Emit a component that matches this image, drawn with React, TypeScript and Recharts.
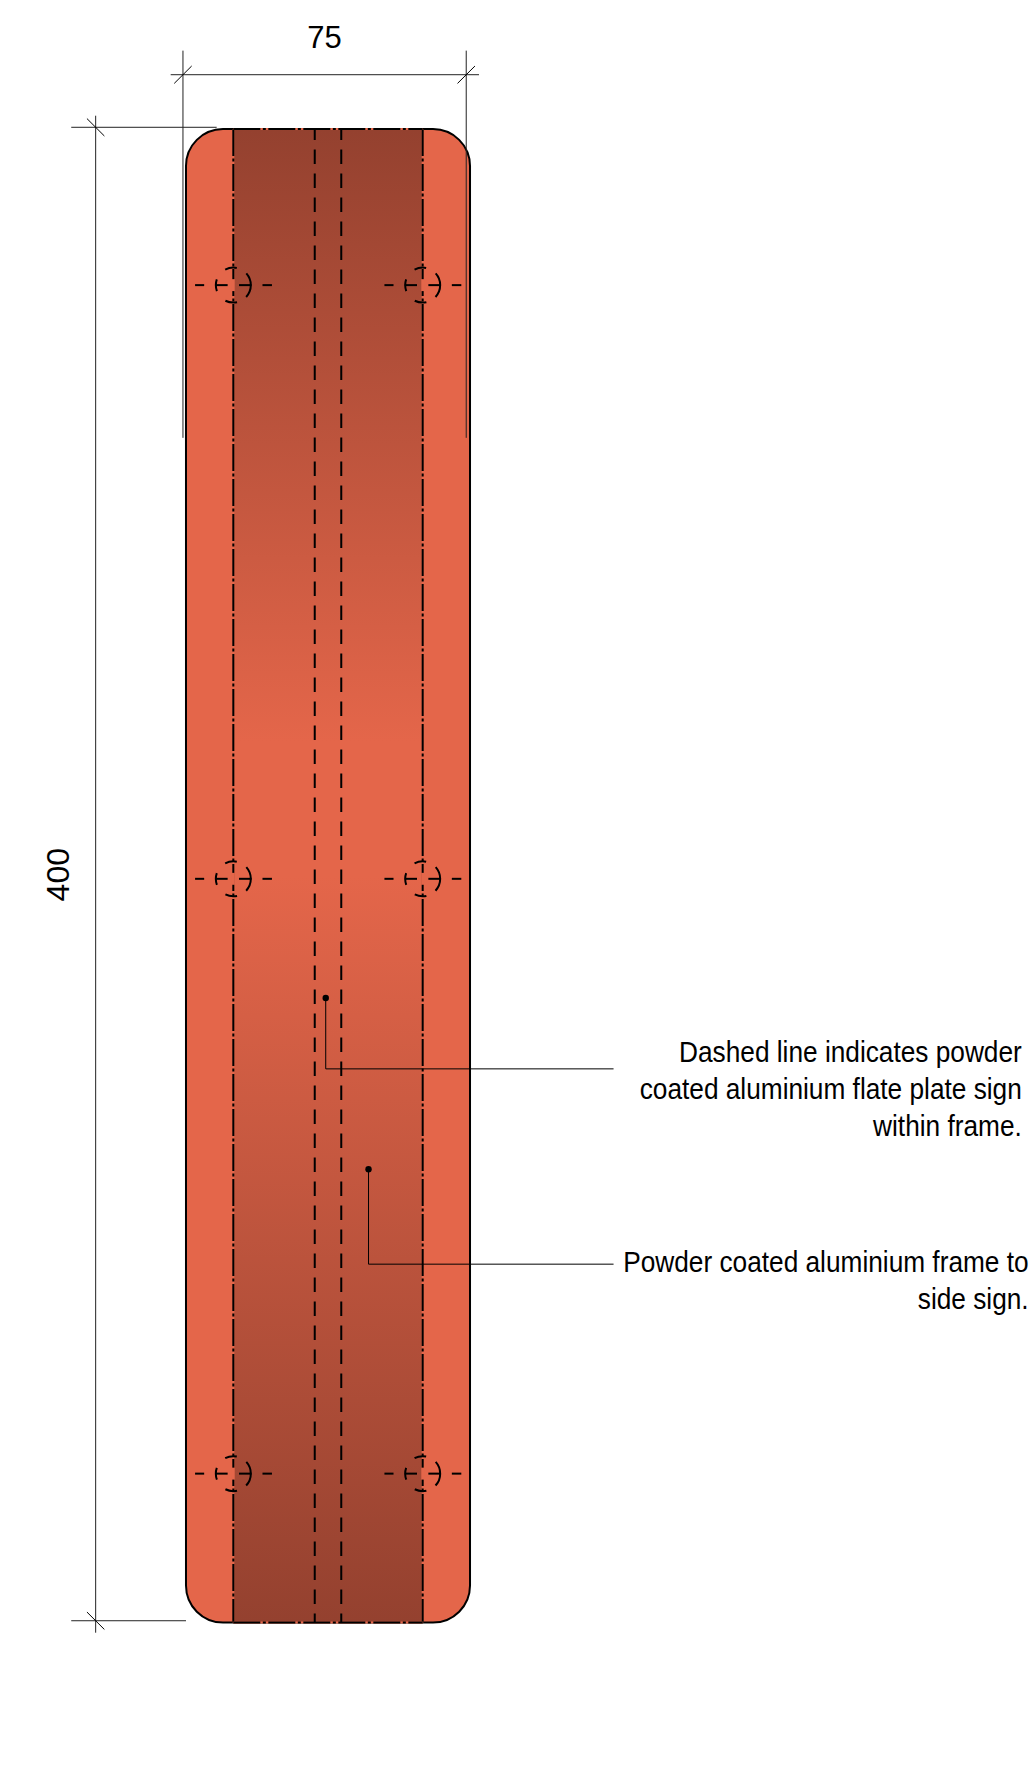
import React from "react";
import { ComposedChart, XAxis, YAxis, Line, ReferenceArea, ReferenceLine, ReferenceDot } from "recharts";

// All drawing values are in millimetres, measured from the top-left of the frame.
const frameSize = { w: 75, top: 0.2, bottom: 400.2 };
const bandEdges = [12.5, 62.5];
const plateEdges = [34, 41];
const holeXs = [12.5, 62.5];
const holeYs = [42, 201, 360.3];
const crossDashes = [[-10.1, -7.7], [-4.7, -1.5], [1.5, 4.8], [7.7, 10.2]];
const holeGapHalf = 1.6;
const widthDim = { y: -14.35, x1: -4.04, x2: 77.37, extX: [-0.8, 74], extY: [-20.8, 82.9] };
const heightDim = { x: -23.85, y1: -3.37, y2: 402.9, extY: [-0.27, 399.7], extX1: -30.3, extX2: [8.1, 0] };
const tickReach = { dx: 2.3, dy: 2.33 };
const leaderA = [{ x: 36.9, y: 232.9 }, { x: 36.9, y: 251.9 }, { x: 112.9, y: 251.9 }];
const leaderB = [{ x: 48.2, y: 278.8 }, { x: 48.2, y: 304.2 }, { x: 112.9, y: 304.2 }];
const notes = [
  { x: 220.7, y: 250, text: "Dashed line indicates powder" },
  { x: 220.7, y: 260, text: "coated aluminium flate plate sign" },
  { x: 220.7, y: 269.8, text: "within frame." },
  { x: 222.5, y: 306.2, text: "Powder coated aluminium frame to" },
  { x: 222.5, y: 316.3, text: "side sign." },
];
const dimLabels = { width: "75", height: "400" };
const widthLabelAt = { x: 36.6, y: -21.4 };
const heightLabelAt = { x: -30.8, y: 199.9 };
const xDomain = [-49.11, 223.13];
const yDomain = [-34.36, 442.35];

const FRAME = "#E4664A";
const DARK = "#94412F";
const FONT = "'Liberation Sans', Arial, sans-serif";
const INK = "#000";
const THIN = "#222";
const NOTE_SQUEEZE = 0.875;

const seg = (x1: number, y1: number, x2: number, y2: number, key: string, props: any = {}) => (
  <ReferenceLine
    key={key}
    ifOverflow="visible"
    segment={[{ x: x1, y: y1 }, { x: x2, y: y2 }]}
    stroke={THIN}
    strokeWidth={1}
    {...props}
  />
);

const NoteText = (p: any) => (
  <text
    transform={`translate(${p.cx} ${p.cy}) scale(${NOTE_SQUEEZE} 1)`}
    textAnchor="end"
    fontFamily={FONT}
    fontSize={30}
    fill="#000"
  >
    {p.text}
  </text>
);

const LeaderDot = (p: any) => <circle cx={p.cx} cy={p.cy} r={3.2} fill={INK} />;

export default function App() {
  const dashDot = { stroke: INK, strokeWidth: 2, strokeDasharray: "27 2.5 3 2.5" };
  return (
    <div style={{ position: "absolute", left: 0, top: 0, width: 1031, height: 1780, background: "#fff" }}>
      <ComposedChart width={1031} height={1780} margin={{ top: 0, right: 0, bottom: 0, left: 0 }}>
        <defs>
          <linearGradient id="bandFill" x1="0" y1="0" x2="0" y2="1">
            <stop offset="0" stopColor={DARK} />
            <stop offset="0.41" stopColor={FRAME} />
            <stop offset="0.5" stopColor={FRAME} />
            <stop offset="1" stopColor={DARK} />
          </linearGradient>
        </defs>
        <XAxis type="number" dataKey="x" domain={xDomain} hide allowDataOverflow />
        <YAxis type="number" dataKey="y" domain={yDomain} reversed hide allowDataOverflow />

        <ReferenceArea
          x1={0}
          x2={frameSize.w}
          y1={frameSize.top}
          y2={frameSize.bottom}
          ifOverflow="visible"
          fill={FRAME}
          fillOpacity={1}
          stroke={INK}
          strokeWidth={2}
          radius={37}
        />
        <ReferenceArea
          x1={bandEdges[0]}
          x2={bandEdges[1]}
          y1={frameSize.top}
          y2={frameSize.bottom}
          ifOverflow="visible"
          fill="url(#bandFill)"
          fillOpacity={1}
          stroke="none"
        />

        {bandEdges.map((x, i) => seg(x, frameSize.top, x, frameSize.bottom, `edgeU${i}`, { stroke: FRAME, strokeWidth: 2 }))}
        {bandEdges.map((x, i) => seg(x, frameSize.top, x, frameSize.bottom, `edge${i}`, dashDot))}
        {[frameSize.top, frameSize.bottom].map((y, i) => seg(bandEdges[0], y, bandEdges[1], y, `capU${i}`, { stroke: FRAME, strokeWidth: 2 }))}
        {[frameSize.top, frameSize.bottom].map((y, i) => seg(bandEdges[0], y, bandEdges[1], y, `cap${i}`, dashDot))}
        {plateEdges.map((x, i) =>
          seg(x, frameSize.top, x, frameSize.bottom, `plate${i}`, { stroke: INK, strokeWidth: 2, strokeDasharray: "14.5 9.5", strokeDashoffset: 3.5 })
        )}

        {holeXs.flatMap((hx) =>
          holeYs.flatMap((hy) => [
            seg(hx, hy - holeGapHalf, hx, hy + holeGapHalf, `gap${hx}-${hy}`, { stroke: FRAME, strokeWidth: 3 }),
            ...crossDashes.map(([a, b], i) =>
              seg(hx + a, hy, hx + b, hy, `cross${hx}-${hy}-${i}`, { stroke: INK, strokeWidth: 2 })
            ),
            <ReferenceDot
              key={`hole${hx}-${hy}`}
              x={hx}
              y={hy}
              r={17.5}
              ifOverflow="visible"
              fill="none"
              stroke={INK}
              strokeWidth={2}
              strokeDasharray="13 10.5 12 13 12 13 12 11 13 0"
            />,
          ])
        )}

        {seg(widthDim.x1, widthDim.y, widthDim.x2, widthDim.y, "wDim")}
        {widthDim.extX.map((x, i) => seg(x, widthDim.extY[0], x, widthDim.extY[1], `wExt${i}`))}
        {widthDim.extX.map((x, i) =>
          seg(x - tickReach.dx, widthDim.y + tickReach.dy, x + tickReach.dx, widthDim.y - tickReach.dy, `wTick${i}`, { stroke: INK })
        )}
        {seg(heightDim.x, heightDim.y1, heightDim.x, heightDim.y2, "hDim")}
        {heightDim.extY.map((y, i) => seg(heightDim.extX1, y, heightDim.extX2[i], y, `hExt${i}`))}
        {heightDim.extY.map((y, i) =>
          seg(heightDim.x - tickReach.dx, y - tickReach.dy, heightDim.x + tickReach.dx, y + tickReach.dy, `hTick${i}`, { stroke: INK })
        )}

        <Line data={leaderA} dataKey="y" type="linear" stroke={INK} strokeWidth={1} dot={false} activeDot={false} isAnimationActive={false} legendType="none" />
        <Line data={leaderB} dataKey="y" type="linear" stroke={INK} strokeWidth={1} dot={false} activeDot={false} isAnimationActive={false} legendType="none" />
        {[leaderA[0], leaderB[0]].map((p, i) => (
          <ReferenceDot key={`lead${i}`} x={p.x} y={p.y} ifOverflow="visible" shape={LeaderDot} />
        ))}

        {notes.map((n, i) => (
          <ReferenceDot key={`note${i}`} x={n.x} y={n.y} ifOverflow="visible" shape={(p: any) => <NoteText {...p} text={n.text} />} />
        ))}
        <ReferenceDot
          x={widthLabelAt.x}
          y={widthLabelAt.y}
          ifOverflow="visible"
          shape={(p: any) => (
            <text x={p.cx} y={p.cy} textAnchor="middle" fontFamily={FONT} fontSize={31} fill="#000">
              {dimLabels.width}
            </text>
          )}
        />
        <ReferenceDot
          x={heightLabelAt.x}
          y={heightLabelAt.y}
          ifOverflow="visible"
          shape={(p: any) => (
            <text
              x={p.cx}
              y={p.cy}
              textAnchor="middle"
              fontFamily={FONT}
              fontSize={32}
              fill="#000"
              transform={`rotate(-90 ${p.cx} ${p.cy})`}
            >
              {dimLabels.height}
            </text>
          )}
        />
      </ComposedChart>
    </div>
  );
}
